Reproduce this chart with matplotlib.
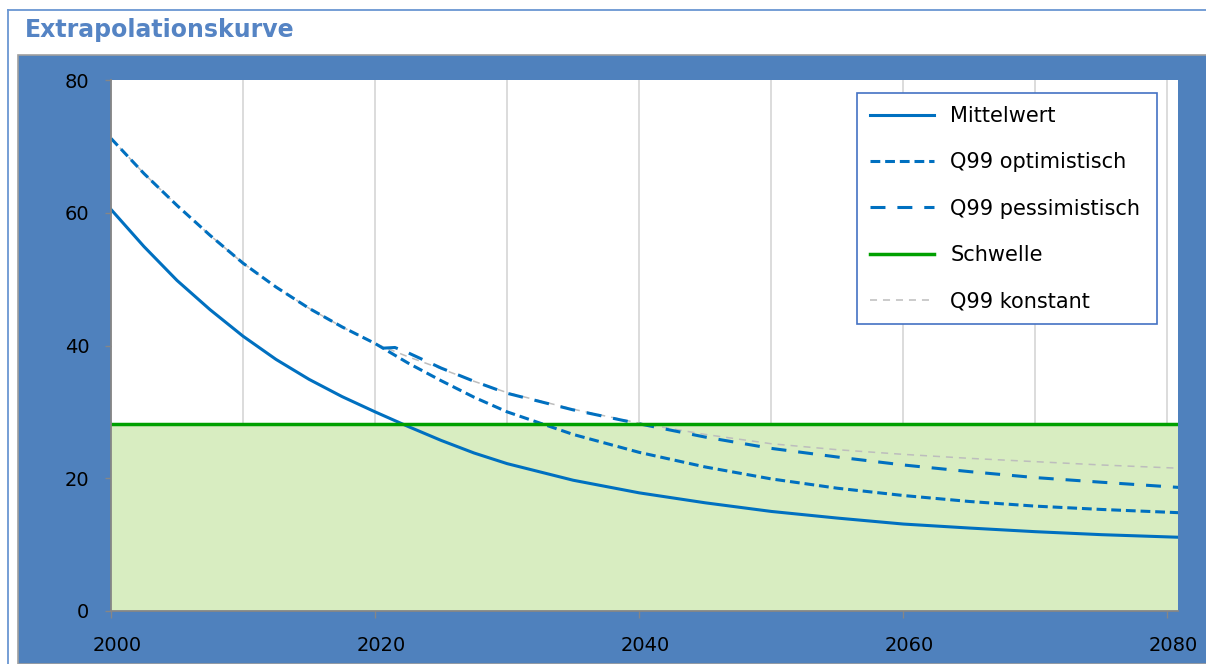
import matplotlib
matplotlib.use("Agg")
import matplotlib.pyplot as plt
from matplotlib.patches import Rectangle
from matplotlib.lines import Line2D
from matplotlib.transforms import ScaledTranslation
from matplotlib.ticker import MultipleLocator

# --- Daten ---
jahre = [2000, 2002.5, 2005, 2007.5, 2010, 2012.5, 2015, 2017.5, 2020,
         2022.5, 2025, 2027.5, 2030, 2035, 2040, 2045, 2050, 2055,
         2060, 2065, 2070, 2075, 2081]
mittelwert = [60.5, 54.9, 49.8, 45.4, 41.4, 37.9, 34.9, 32.3, 30.0,
              27.8, 25.7, 23.8, 22.2, 19.7, 17.8, 16.3, 15.0, 14.0,
              13.1, 12.5, 11.95, 11.5, 11.1]
q99_optimistisch = [71.2, 65.9, 61.1, 56.6, 52.4, 48.8, 45.6, 42.8, 40.3,
                    37.35, 34.7, 32.2, 30.0, 26.6, 23.9, 21.7, 19.9, 18.5,
                    17.4, 16.5, 15.8, 15.3, 14.8]
q99_konstant = [71.2, 65.9, 61.1, 56.6, 52.4, 48.8, 45.6, 42.8, 40.3,
                38.3, 36.5, 34.6, 32.9, 30.4, 28.3, 26.6, 25.2, 24.3,
                23.6, 23.0, 22.5, 22.0, 21.5]

# pessimistische Kurve beginnt erst kurz nach 2020
jahre_pess = [2020.6, 2021.5, 2022.5, 2025, 2027.5, 2030, 2035, 2040, 2045,
              2050, 2055, 2060, 2065, 2070, 2075, 2081]
q99_pessimistisch = [39.6, 39.7, 38.9, 36.6, 34.6, 32.8, 30.3, 28.2, 26.2,
                     24.5, 23.2, 22.0, 21.0, 20.1, 19.4, 18.6]

schwelle = 28.2

x_ticks = [2000, 2020, 2040, 2060, 2080]
y_ticks = [0, 20, 40, 60, 80]

BLAU = '#0070C0'
GRUEN = '#00A000'
PANEL = '#4F81BD'

W, H = 1206, 664
fig = plt.figure(figsize=(W / 100, H / 100), dpi=100)
fig.patch.set_facecolor('white')

# blauer Hintergrund des Diagrammbereichs
fig.add_artist(Rectangle((18 / W, 0), 1.0, (H - 55) / H, transform=fig.transFigure,
                         facecolor=PANEL, edgecolor='#A0A0A0', lw=1.2, zorder=-5))
# aeusserer Rahmen
fig.add_artist(Line2D([8 / W, 8 / W], [0, 1 - 10 / H], transform=fig.transFigure,
                      color='#6A96D2', lw=1.3, zorder=-5))
fig.add_artist(Line2D([8 / W, 1], [1 - 10 / H, 1 - 10 / H], transform=fig.transFigure,
                      color='#6A96D2', lw=1.3, zorder=-5))

fig.text(25 / W, 1 - 30 / H, 'Extrapolationskurve', ha='left', va='center',
         fontsize=17, fontweight='bold', color='#5584C4')

ax = fig.add_axes([111 / W, (H - 611) / H, (1178 - 111) / W, (611 - 80) / H])
ax.set_facecolor('white')

ax.axhspan(0, schwelle, color='#D8EDC1', zorder=1, lw=0)

ax.plot(jahre, q99_konstant, color='#BDBDBD', lw=1.1, ls=(0, (4.6, 3.9)), zorder=3)
ax.plot(jahre_pess, q99_pessimistisch, color=BLAU, lw=2.2, ls=(0, (4.9, 3.9)), zorder=4)
ax.plot(jahre, q99_optimistisch, color=BLAU, lw=2.2, ls=(0, (3.2, 1.6)), zorder=4)
ax.plot(jahre, mittelwert, color=BLAU, lw=2.2, zorder=5)
ax.axhline(schwelle, color=GRUEN, lw=2.5, zorder=6)

ax.set_xlim(2000, 2080.8)
ax.set_ylim(0, 80)
ax.set_xticks(x_ticks)
ax.xaxis.set_minor_locator(MultipleLocator(10))
ax.set_yticks(y_ticks)
ax.grid(True, axis='x', which='both', color='#D9D9D9', lw=1.3, zorder=0)
ax.set_axisbelow(True)

for s in ['top', 'right']:
    ax.spines[s].set_visible(False)
for s in ['left', 'bottom']:
    ax.spines[s].set_color('#868686')
    ax.spines[s].set_linewidth(1.3)
    ax.spines[s].set_zorder(7)

ax.tick_params(axis='y', direction='out', length=4.5, width=1, color='#868686',
               labelsize=14, pad=11, labelcolor='black')
ax.tick_params(axis='x', which='major', direction='inout', length=9.5, width=1,
               color='#868686', labelsize=14, pad=13, labelcolor='black')
ax.tick_params(axis='x', which='minor', direction='in', length=4.5, width=1,
               color='#868686')
for lab in ax.get_xticklabels():
    lab.set_transform(lab.get_transform() + ScaledTranslation(6 / 100, 0, fig.dpi_scale_trans))

handles = [
    Line2D([], [], color=BLAU, lw=2.2),
    Line2D([], [], color=BLAU, lw=2.2, ls=(0, (3.2, 1.6))),
    Line2D([], [], color=BLAU, lw=2.2, ls=(0, (4.9, 3.9))),
    Line2D([], [], color=GRUEN, lw=2.5),
    Line2D([], [], color='#BDBDBD', lw=1.1, ls=(0, (4.6, 3.9))),
]
labels = ['Mittelwert', 'Q99 optimistisch', 'Q99 pessimistisch', 'Schwelle', 'Q99 konstant']
leg = ax.legend(handles, labels, loc='upper left',
                bbox_to_anchor=(857 / W, 1 - 93 / H - 0.01, (1157 - 857) / W, 0.01),
                bbox_transform=fig.transFigure, mode='expand', borderaxespad=0,
                fontsize=15, handlelength=3.05, handletextpad=0.8, labelspacing=1.26,
                borderpad=0.63, fancybox=False, framealpha=1, edgecolor='#4472C4')
leg.get_frame().set_linewidth(1.2)
leg.set_zorder(10)

plt.savefig('out.png', dpi=100)
